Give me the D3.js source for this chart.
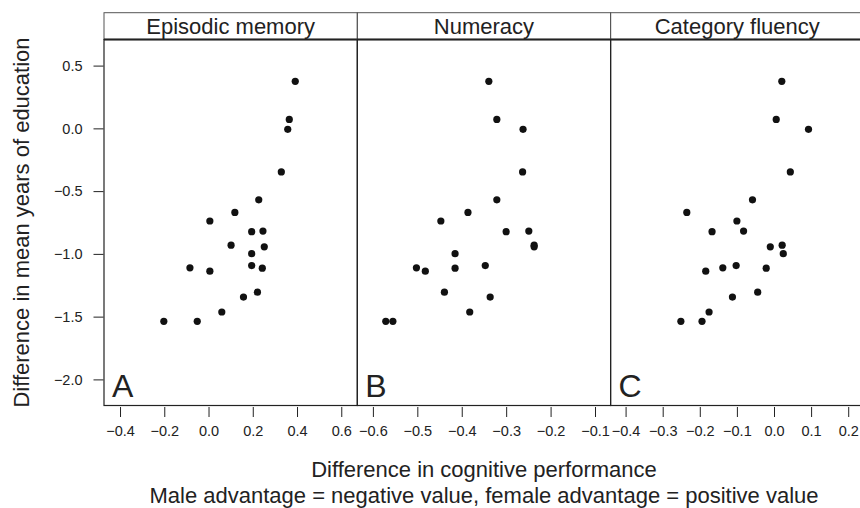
<!DOCTYPE html>
<html>
<head>
<meta charset="utf-8">
<script src="https://cdn.jsdelivr.net/npm/d3@7"></script>
<style>
  body { margin: 0; background: #fff; }
  text { font-family: "Liberation Sans", Arial, Helvetica, sans-serif; fill: #222; }
  .tick line { stroke: #222; }
</style>
</head>
<body>
<div id="chart"></div>
<script>
// difference in mean years of education (one value per country, shared by all panels)
var educationGap = [0.375, 0.071, -0.008, -0.347, -0.569, -0.670, -0.738, -0.818, -0.823, -0.931, -0.944,
  -0.998, -1.093, -1.111, -1.114, -1.138, -1.305, -1.344, -1.463, -1.537, -1.537];
// difference in cognitive performance, same country order
var episodicMemory = [0.392, 0.365, 0.358, 0.329, 0.227, 0.119, 0.006, 0.246, 0.195, 0.102, 0.252,
  0.195, 0.195, -0.084, 0.243, 0.006, 0.221, 0.158, 0.060, -0.202, -0.051];
var numeracy = [-0.339, -0.321, -0.262, -0.263, -0.321, -0.386, -0.447, -0.249, -0.300, -0.237, -0.237,
  -0.415, -0.347, -0.502, -0.415, -0.482, -0.439, -0.336, -0.382, -0.571, -0.555];
var categoryFluency = [0.021, 0.006, 0.093, 0.044, -0.058, -0.235, -0.100, -0.082, -0.167, 0.022, -0.010,
  0.025, -0.102, -0.138, -0.021, -0.184, -0.044, -0.112, -0.175, -0.251, -0.194];

var panelTitles = ["Episodic memory", "Numeracy", "Category fluency"];
var panelLetters = ["A", "B", "C"];
var xTickValues = [
  [-0.4, -0.2, 0.0, 0.2, 0.4, 0.6],
  [-0.6, -0.5, -0.4, -0.3, -0.2, -0.1],
  [-0.4, -0.3, -0.2, -0.1, 0.0, 0.1, 0.2]
];
var yTickValues = [-2.0, -1.5, -1.0, -0.5, 0.0, 0.5];
var xTitle = "Difference in cognitive performance";
var xSubtitle = "Male advantage = negative value, female advantage = positive value";
var yTitle = "Difference in mean years of education";

var series = [episodicMemory, numeracy, categoryFluency];

// layout
var width = 860, height = 508;
var left = 104, panelW = 253.3;
var stripTop = 12.7, plotTop = 39.5, plotBottom = 405.5;
var xDomains = [[-0.4724, 0.6724], [-0.6351, -0.0649], [-0.4404, 0.2423]];

var svg = d3.select("#chart").append("svg")
  .attr("width", width)
  .attr("height", height);

var y = d3.scaleLinear().domain([-2.208, 0.708]).range([plotBottom, plotTop]);
var fmt = d3.format(".1f");

panelTitles.forEach(function(title, p) {
  var x0 = left + p * panelW;
  var x = d3.scaleLinear().domain(xDomains[p]).range([x0, x0 + panelW]);
  var g = svg.append("g");

  // strip
  g.append("rect")
    .attr("x", x0).attr("y", stripTop)
    .attr("width", panelW).attr("height", plotTop - stripTop)
    .attr("fill", "none").attr("stroke", "#555").attr("stroke-width", 1);
  g.append("text")
    .attr("x", x0 + panelW / 2).attr("y", 34)
    .attr("text-anchor", "middle")
    .style("font-size", "22px")
    .text(title);

  // panel frame
  g.append("rect")
    .attr("x", x0).attr("y", plotTop)
    .attr("width", panelW).attr("height", plotBottom - plotTop)
    .attr("fill", "none").attr("stroke", "#222").attr("stroke-width", 1.2);
  g.append("line")
    .attr("x1", x0).attr("x2", x0 + panelW)
    .attr("y1", plotTop).attr("y2", plotTop)
    .attr("stroke", "#222").attr("stroke-width", 2);

  // x axis
  var xa = g.append("g")
    .attr("transform", "translate(0," + (plotBottom + 1.5) + ")")
    .call(d3.axisBottom(x).tickValues(xTickValues[p]).tickSize(10).tickPadding(9).tickFormat(fmt));
  xa.select(".domain").remove();
  xa.selectAll("text").style("font-size", "14.5px").attr("fill", "#222");

  // points
  g.selectAll("circle.pt")
    .data(series[p])
    .enter().append("circle")
    .attr("class", "pt")
    .attr("cx", function(d) { return x(d); })
    .attr("cy", function(d, i) { return y(educationGap[i]); })
    .attr("r", 3.6)
    .attr("fill", "#111");

  g.append("text")
    .attr("x", x0 + 8).attr("y", 397)
    .style("font-size", "32px")
    .text(panelLetters[p]);
});

// y axis on the first panel only
var ya = svg.append("g")
  .attr("transform", "translate(" + (left - 0.5) + ",0)")
  .call(d3.axisLeft(y).tickValues(yTickValues).tickSize(10).tickPadding(11).tickFormat(fmt));
ya.select(".domain").remove();
ya.selectAll("text").style("font-size", "14.5px").attr("fill", "#222");

// axis titles
svg.append("text")
  .attr("transform", "translate(29," + ((plotTop + plotBottom) / 2) + ") rotate(-90)")
  .attr("text-anchor", "middle")
  .style("font-size", "22px")
  .text(yTitle);

svg.append("text")
  .attr("x", 484).attr("y", 477)
  .attr("text-anchor", "middle")
  .style("font-size", "22px")
  .text(xTitle);
svg.append("text")
  .attr("x", 484).attr("y", 503)
  .attr("text-anchor", "middle")
  .style("font-size", "22px")
  .text(xSubtitle);
</script>
</body>
</html>
